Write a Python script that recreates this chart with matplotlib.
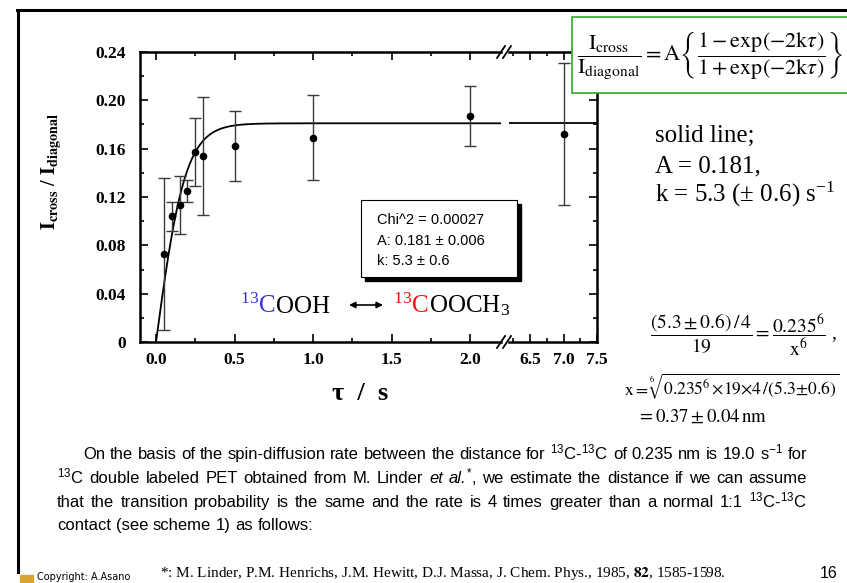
import re

import matplotlib
matplotlib.use('Agg')
from matplotlib import pyplot
from matplotlib import font_manager
from matplotlib.font_manager import FontProperties
from matplotlib.patches import Rectangle
from matplotlib.lines import Line2D
from matplotlib.ticker import MultipleLocator
import numpy

W, H = 847, 583

# values
tau = [0.05, 0.10, 0.15, 0.20, 0.25, 0.30, 0.50, 1.00, 2.00, 7.00]
ratio = [0.073, 0.104, 0.113, 0.125, 0.157, 0.154, 0.162, 0.169, 0.187, 0.172]
ratio_err = [0.063, 0.012, 0.024, 0.009, 0.028, 0.049, 0.029, 0.035, 0.025, 0.059]

A_FIT = 0.181
K_FIT = 5.3

y_ticks = [0, 0.04, 0.08, 0.12, 0.16, 0.20, 0.24]
y_ticklabels = ['0', '0.04', '0.08', '0.12', '0.16', '0.20', '0.24']
x_ticks_left = [0.0, 0.5, 1.0, 1.5, 2.0]
x_ticklabels_left = ['0.0', '0.5', '1.0', '1.5', '2.0']
x_ticks_right = [6.5, 7.0, 7.5]
x_ticklabels_right = ['6.5', '7.0', '7.5']

stats_lines = ['Chi^2 = 0.00027', 'A: 0.181 \u00b1 0.006', 'k: 5.3 \u00b1 0.6']
solid_lines = ['solid line;', 'A = 0.181,',
               'k = 5.3 (\u00b1 0.6) s' + r'$^{\mathregular{-1}}$']

SUP13 = r'$\mathregular{^{13}}$'
para_lines = [
    'On the basis of the spin-diffusion rate between the distance for '
    + SUP13 + 'C-' + SUP13 + r'C of 0.235 nm is 19.0 s$\mathregular{^{-1}}$ for',
    SUP13 + 'C double labeled PET obtained from M. Linder _et_ _al._'
    + r'$\mathregular{^{*}}$, we estimate the distance if we can assume',
    'that the transition probability is the same and the rate is 4 times '
    'greater than a normal 1:1 ' + SUP13 + 'C-' + SUP13 + 'C',
    'contact (see scheme 1) as follows:',
]
footnote = (r'*: M. Linder, P.M. Henrichs, J.M. Hewitt, D.J. Massa, '
            r'J. Chem. Phys., 1985, $\mathbf{82}$, 1585-1598.')

pyplot.rcParams['font.family'] = 'serif'
pyplot.rcParams['font.serif'] = ['Liberation Serif', 'DejaVu Serif']
pyplot.rcParams['mathtext.fontset'] = 'stix'


def fx(x):
    return x / W


def fy(y):
    return 1 - y / H


def rect(x0, y0, x1, y1):
    return [fx(x0), fy(y1), (x1 - x0) / W, (y1 - y0) / H]


def pick_family(names, default):
    for name in names:
        try:
            font_manager.findfont(FontProperties(family=name),
                                  fallback_to_default=False)
            return name
        except ValueError:
            pass
    return default


narrow = pick_family(['Liberation Sans Narrow', 'Arial Narrow'],
                     'Liberation Sans')

fig = pyplot.figure(figsize=(W / 100, H / 100), dpi=100)
ax1 = fig.add_axes(rect(140, 52, 501, 342))
ax2 = fig.add_axes(rect(509, 52, 597, 342), sharey=ax1)

ax1.set_xlim((140 - 156) / 157, (501 - 156) / 157)
ax2.set_xlim(6.5 - 21 / 67, 7.5)
ax1.set_ylim(0, 0.24)

for ax in (ax1, ax2):
    for sp in ax.spines.values():
        sp.set_linewidth(1.8)
    ax.tick_params(which='both', direction='in', top=True, width=1.2)
    ax.tick_params(which='major', length=5.5)
    ax.tick_params(which='minor', length=3)
    ax.tick_params(axis='x', pad=7)
    ax.xaxis.set_minor_locator(MultipleLocator(0.25))
    ax.yaxis.set_minor_locator(MultipleLocator(0.02))
ax1.spines['right'].set_visible(False)
ax2.spines['left'].set_visible(False)
ax1.tick_params(right=False, which='both')
ax2.tick_params(which='both', left=False, labelleft=False, right=True,
                labelright=False)
ax1.tick_params(axis='y', pad=10)

ax1.set_yticks(y_ticks, y_ticklabels, fontweight='bold', fontsize=12.5)
ax1.set_xticks(x_ticks_left, x_ticklabels_left, fontweight='bold',
               fontsize=12.5)
ax2.set_xticks(x_ticks_right, x_ticklabels_right, fontweight='bold',
               fontsize=12.5)
ax1.set_ylim(0, 0.24)

# fit curve  A (1 - exp(-2k tau)) / (1 + exp(-2k tau))
for ax in (ax1, ax2):
    lo, hi = ax.get_xlim()
    tt = numpy.linspace(max(lo, 0), hi, 400)
    ax.plot(tt, A_FIT * (1 - numpy.exp(-2 * K_FIT * tt)) /
            (1 + numpy.exp(-2 * K_FIT * tt)), color='black', lw=1.3)
    sel = [i for i, t in enumerate(tau) if lo <= t <= hi]
    ax.errorbar([tau[i] for i in sel], [ratio[i] for i in sel],
                yerr=[ratio_err[i] for i in sel], fmt='o', color='black',
                ecolor='#3a3a3a', elinewidth=1.0, capsize=4.5, capthick=1.0,
                markersize=4.5, zorder=3)

# axis break marks
for yb in (52, 342):
    for dx in (0, 6):
        fig.add_artist(Line2D([fx(497 + dx), fx(505 + dx)],
                              [fy(yb + 6), fy(yb - 6)], color='black',
                              lw=1.3))

fig.text(fx(52), fy(172), r'$\mathbf{I_{cross}}$ / $\mathbf{I_{diagonal}}$',
         rotation=90, ha='center', va='center', fontsize=14.5,
         fontweight='bold')
fig.text(fx(360), fy(393), '\u03c4  /  s', ha='center', va='center',
         fontsize=19, fontweight='bold')

# fit parameter box
fig.add_artist(Rectangle((fx(365), fy(281)), 156 / W, 77 / H,
                         transform=fig.transFigure, color='black'))
fig.add_artist(Rectangle((fx(361), fy(277)), 156 / W, 77 / H,
                         transform=fig.transFigure, facecolor='white',
                         edgecolor='black', lw=0.8))
for s, yb in zip(stats_lines, (224, 245, 265)):
    fig.text(fx(377), fy(yb), s, family='Liberation Sans', fontsize=10.5,
             va='baseline')

# compound labels
t13a = fig.text(fx(240), fy(313), r'$^{\mathregular{13}}$C',
                color='#3535d8', fontsize=18, va='baseline')
ax1.annotate('OOH', xy=(1, fy(313)), xycoords=(t13a, 'figure fraction'),
             fontsize=18, va='baseline', annotation_clip=False)
ax1.annotate('', xy=(383, H - 305), xytext=(349, H - 305),
             xycoords='figure pixels', textcoords='figure pixels',
             annotation_clip=False,
             arrowprops=dict(arrowstyle='<|-|>', color='black', lw=1.2,
                             mutation_scale=9, shrinkA=0, shrinkB=0))
t13b = fig.text(fx(393), fy(313), r'$^{\mathregular{13}}$C',
                color='#f01010', fontsize=18, va='baseline')
ax1.annotate(r'OOCH$_{\mathregular{3}}$', xy=(1, fy(313)),
             xycoords=(t13b, 'figure fraction'), fontsize=18,
             va='baseline', annotation_clip=False)

# formula box
fig.add_artist(Rectangle((fx(572), fy(93)), 290 / W, 76 / H,
                         transform=fig.transFigure, facecolor='white',
                         edgecolor='#2ea82e', lw=1.2))
fig.text(fx(577), fy(55),
         r'$\dfrac{\mathrm{I}_{\mathrm{cross}}}{\mathrm{I}_{\mathrm{diagonal}}}'
         r'=\mathrm{A}\left\{\dfrac{1-\exp(-2\mathrm{k}\tau)}'
         r'{1+\exp(-2\mathrm{k}\tau)}\right\}$',
         fontsize=16, ha='left', va='center')

for s, yb in zip(solid_lines, (142, 172, 202)):
    fig.text(fx(655), fy(yb), s, fontsize=18, va='baseline')

fig.text(fx(650), fy(335),
         r'$\dfrac{(5.3\pm 0.6)\,/\,4}{19}=\dfrac{0.235^{6}}{\mathrm{x}^{6}}$ ,',
         fontsize=14, ha='left', va='center')
fig.text(fx(624), fy(395),
         r'$\mathrm{x}=\sqrt[6]{0.235^{6}\,{\times}19{\times}4\,/(5.3{\pm}0.6)}$',
         fontsize=12.6, ha='left', va='baseline')
fig.text(fx(637), fy(422), r'$=0.37\pm 0.04\,\mathrm{nm}$',
         fontsize=13.5, ha='left', va='baseline')

# paragraph, justified word by word
renderer = fig.canvas.get_renderer()


def segments(word):
    parts = re.split(r'(_[^_]+_)', word)
    out = []
    for p in parts:
        if not p:
            continue
        if len(p) > 2 and p[0] == '_' and p[-1] == '_':
            out.append((p[1:-1], 'italic'))
        else:
            out.append((p, 'normal'))
    return out


def width_of(s, style, size):
    t = fig.text(0, 0, s, family=narrow, style=style, fontsize=size)
    w = t.get_window_extent(renderer).width
    t.remove()
    return w


para_x = [83, 57, 57, 57]
para_base = [459, 483, 507, 530]
para_right = 807
para_size = 12.0

scale = 1.0
for k in range(3):
    words = para_lines[k].split(' ')
    total = sum(width_of(s, st, para_size) for w in words
                for s, st in segments(w))
    space = (width_of('n n', 'normal', para_size) -
             width_of('nn', 'normal', para_size))
    natural = total + space * 0.8 * (len(words) - 1)
    scale = min(scale, (para_right - para_x[k]) / natural)
size = para_size * scale
space = width_of('n n', 'normal', size) - width_of('nn', 'normal', size)

for k, line in enumerate(para_lines):
    words = line.split(' ')
    widths = [[width_of(s, st, size) for s, st in segments(w)]
              for w in words]
    used = sum(sum(ws) for ws in widths)
    if k < 3:
        gap = (para_right - para_x[k] - used) / (len(words) - 1)
    else:
        gap = space
    x = para_x[k]
    for w, ws in zip(words, widths):
        for (s, st), sw in zip(segments(w), ws):
            fig.text(fx(x), fy(para_base[k]), s, family=narrow, style=st,
                     fontsize=size, va='baseline')
            x += sw
        x += gap

fig.text(fx(160), fy(577), footnote, fontsize=11, va='baseline')
fig.text(fx(820), fy(578), '16', family='Liberation Sans', fontsize=11.5,
         va='baseline')
fig.add_artist(Rectangle((fx(20), fy(583)), 13 / W, 8 / H,
                         transform=fig.transFigure, color='#d9a431'))
fig.text(fx(37), fy(580), 'Copyright: A.Asano', family='DejaVu Sans',
         fontsize=7, va='baseline')

# slide frame
fig.add_artist(Line2D([fx(17), 1], [fy(10), fy(10)], color='black', lw=2.2))
fig.add_artist(Line2D([fx(18), fx(18)], [fy(10), fy(572)], color='black',
                      lw=2.2))

fig.savefig('out.png', dpi=100)
